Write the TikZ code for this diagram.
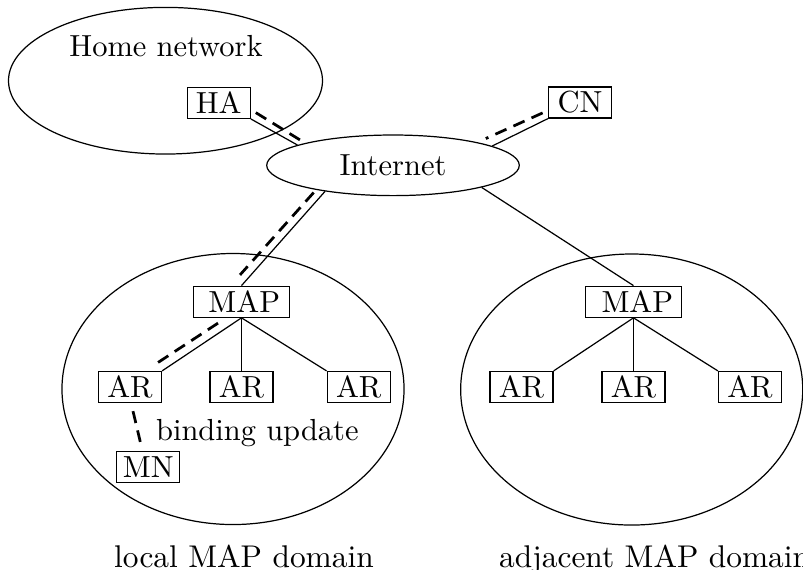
\documentclass[tikz,border=0pt]{standalone}
\usetikzlibrary{shapes.geometric}
\begin{document}
\begin{tikzpicture}[x=0.328pt,y=-0.328pt,
  box/.style={draw, line width=0.4pt, inner sep=0pt, minimum width=20.66pt, minimum height=10.17pt},
  mapbox/.style={box, minimum width=31.5pt},
  region/.style={draw, ellipse, inner sep=0pt, line width=0.4pt},
  mapregion/.style={region, minimum width=112.2pt, minimum height=88.9pt},
  label text/.style={inner sep=0pt},
  caption text/.style={inner sep=0pt, font=\fontsize{10.3pt}{12pt}\selectfont},
  link/.style={line width=0.4pt},
  flow/.style={line width=0.9pt, dash pattern=on 4pt off 2.5pt}]
\useasboundingbox (0,0) rectangle (803,569);

% regions
\node[region, minimum width=103pt, minimum height=48.1pt] (home) at (165.5,80.7) {};
\node[label text, anchor=base] (homelabel) at (166,56) {Home network};
\node[region, minimum width=82.85pt, minimum height=19.88pt] (inet) at (393,165.3) {Internet};
\node[mapregion] (local) at (233,389) {};
\node[mapregion] (adj) at (631.7,389.5) {};

% boxes
\node[box] (HA) at (218.7,102.8) {HA};
\node[box] (CN) at (580,102.5) {CN};

\node[mapbox] (MAPa) at (241.5,301.7) {\hspace{1.8pt}MAP};
\node[box] (ARa1) at (130,387) {AR};
\node[box] (ARa2) at (241.5,387) {AR};
\node[box] (ARa3) at (358.7,387) {AR};
\node[box] (MN) at (148.3,467) {MN};
\node[label text, anchor=base west] (bu) at (155.5,440) {binding update};
\node[caption text, anchor=base] (locallabel) at (244,567) {local MAP domain};

\node[mapbox] (MAPb) at (633.5,301.7) {\hspace{2.5pt}MAP};
\node[box] (ARb1) at (521.5,387) {AR};
\node[box] (ARb2) at (633.5,387) {AR};
\node[box] (ARb3) at (750,387) {AR};
\node[caption text, anchor=base west] (adjlabel) at (498.5,567) {adjacent MAP domain};

% connectors
\draw[link] (HA.south east) -- (inet.168);
\draw[flow] ([shift={(5,-6.3)}]HA.south east) -- ([shift={(3.2,-4.7)}]inet.168);
\draw[link] (CN.south west) -- (inet.11);
\draw[flow] ([shift={(-5.3,-5.7)}]CN.south west) -- ([shift={(-6.4,-7.5)}]inet.11);
\draw[link] (inet.201) -- (MAPa.north);
\draw[flow] ([shift={(-11.3,1.1)}]inet.201) -- ([shift={(-1.5,-10.7)}]MAPa.north);
\draw[link] (inet.346) -- (MAPb.north);

\draw[link] (MAPa.south) -- (ARa1.north east);
\draw[link] (MAPa.south) -- (ARa2.north);
\draw[link] (MAPa.south) -- (ARa3.north west);
\draw[flow] ([shift={(-23.5,5.3)}]MAPa.south) -- ([shift={(-6.7,-6.7)}]ARa1.north east);
\draw[flow] ([shift={(3,8)}]ARa1.south) -- ([shift={(-8,-9)}]MN.north);

\draw[link] (MAPb.south) -- (ARb1.north east);
\draw[link] (MAPb.south) -- (ARb2.north);
\draw[link] (MAPb.south) -- (ARb3.north west);
\end{tikzpicture}
\end{document}
